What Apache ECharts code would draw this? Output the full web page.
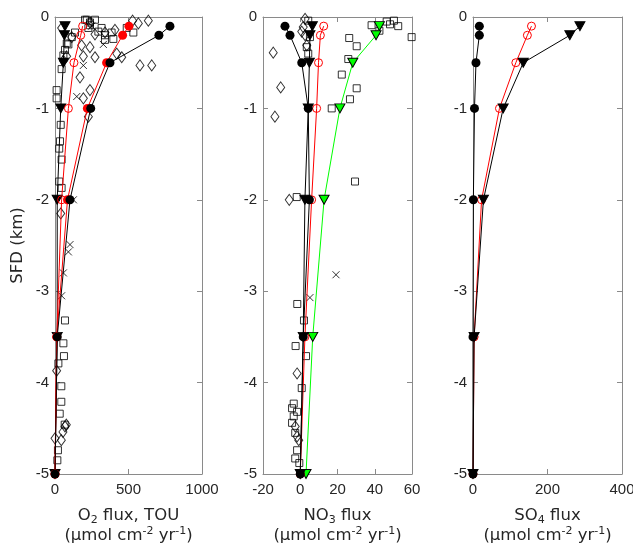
<!DOCTYPE html>
<html>
<head>
<meta charset="utf-8">
<script src="https://cdn.jsdelivr.net/npm/echarts@6/dist/echarts.min.js"></script>
<style>html,body{margin:0;padding:0;background:#fff}#c{width:633px;height:545px}</style>
</head>
<body>
<div id="c"></div>
<script>
// ---- data ----
const depths = [0.1, 0.2, 0.5, 1, 2, 3.5, 5];

// Panel 1: O2 flux, TOU
const o2BlackFilled = [782, 707, 374, 243, 102, 15, 0];
const o2RedFilled   = [503, 460, 351, 220, 85, 12, 0];
const o2RedOpen     = [188, 175, 129, 91, 45, 12, 0];
const o2Triangles   = [68, 64, 57, 39, 15, 15, 0];
const o2Squares = [[204,0.03],[238,0.06],[272,0.03],[238,0.09],[227,0.12],[317,0.12],[340,0.2],[385,0.17],[340,0.25],[488,0.12],[533,0.17],[295,0.16],[80,0.29],[114,0.22],[68,0.36],[57,0.42],[45,0.57],[11,0.8],[11,0.89],[39,1.18],[34,1.36],[29,1.44],[45,1.56],[29,1.8],[45,1.87],[68,3.32],[57,3.57],[61,3.71],[23,3.79],[43,4.04],[43,4.21],[32,4.34],[66,4.46],[20,4.74],[16,4.85],[136,0.17],[91,0.3],[216,0.03],[397,0.24]];
const o2Diamonds = [[528,0.04],[567,0.07],[635,0.04],[420,0.4],[578,0.53],[658,0.53],[454,0.44],[45,0.12],[114,0.22],[181,0.31],[272,0.44],[193,0.43],[238,0.33],[170,0.66],[238,0.8],[193,0.89],[227,1.09],[340,0.17],[408,0.14],[238,0.06],[79,0.43],[57,0.48],[272,0.19],[39,2.15],[11,3.87],[77,4.46],[54,4.54],[43,4.63],[0,4.61],[68,4.48]];
const o2Crosses = [[329,0.3],[193,0.53],[148,0.87],[250,0.1],[125,2.0],[102,2.49],[91,2.57],[57,2.8],[45,3.05]];

// Panel 2: NO3 flux
const no3BlackFilled = [-8.2, -5.5, 0.8, 4.3, 4.9, 1.6, 0];
const no3Triangles   = [6.5, 5.2, 4.9, 4.3, 2.5, 1.6, 0];
const no3RedOpen     = [12.6, 10.8, 9.8, 8.8, 6.1, 2.5, 0];
const no3Green       = [42.5, 40.7, 28.2, 21.3, 12.8, 6.7, 3.1];
const no3Squares = [[38.3,0.09],[46.4,0.05],[48.2,0.08],[50.3,0.04],[52.6,0.1],[59.8,0.22],[42.5,0.15],[26.3,0.23],[30.3,0.32],[25.8,0.46],[22.3,0.63],[30.3,0.78],[26.7,0.9],[16.9,1.0],[4.3,0.4],[3.5,0.33],[4.3,0.04],[5.2,0.22],[29.4,1.8],[-1.9,1.97],[-1.6,3.14],[2.0,3.32],[-2.5,3.6],[3.1,3.71],[0.8,4.06],[-3.5,4.23],[-4.4,4.28],[-1.7,4.32],[-3.5,4.37],[-4.4,4.44],[-2.7,4.55],[-1.7,4.74],[-2.7,4.83],[-0.5,4.88]];
const no3Diamonds = [[-14.5,0.39],[-10.5,0.77],[-13.6,1.09],[-5.9,2.0],[2.6,0.02],[1.6,0.11],[0.8,0.16],[2.6,0.2],[3.5,0.31],[-1.7,3.9],[-2.7,4.48],[-1.7,4.59],[-0.8,4.63]];
const no3Crosses = [[19.2,2.82],[5.2,3.07]];

// Panel 3: SO4 flux
const so4BlackFilled = [17, 17, 8, 4, 1, 0, 0];
const so4RedOpen     = [157, 146, 115, 71, 23, 3, 0];
const so4Triangles   = [287, 260, 135, 81, 28, 3, 0];

// axis ticks
const yTicks = {min: -5, max: 0, interval: 1};
const xTicks = [
  {min: 0, max: 1000, interval: 500},
  {min: -20, max: 60, interval: 20},
  {min: 0, max: 400, interval: 200}
];
const xNames = [
  '{n|O}{s|2}{n| flux, TOU}\n{n|(µmol cm}{p|-2}{n| yr}{p|-1}{n|)}',
  '{n|NO}{s|3}{n| flux}\n{n|(µmol cm}{p|-2}{n| yr}{p|-1}{n|)}',
  '{n|SO}{s|4}{n| flux}\n{n|(µmol cm}{p|-2}{n| yr}{p|-1}{n|)}'
];
const yName = 'SFD (km)';

// ---- build ----
const prof = (vals) => vals.map((v, i) => [v, -depths[i]]);
const pts = (arr) => arr.map(p => [p[0], -p[1]]);

const grids = [
  {left: 55, right: 431, top: 17, bottom: 71, outerBoundsMode: 'none', containLabel: false},
  {left: 263, right: 221, top: 17, bottom: 71, outerBoundsMode: 'none', containLabel: false},
  {left: 473, right: 11, top: 17, bottom: 71, outerBoundsMode: 'none', containLabel: false}
];
const frameColor = '#8a8a8a';
const labelColor = '#262626';
const tickFont = 'Liberation Sans';
const nameFont = 'DejaVu Sans';
const plain = (v) => String(v);

const xAxis = [], yAxis = [];
grids.forEach((g, i) => {
  const common = {
    type: 'value', gridIndex: i, min: xTicks[i].min, max: xTicks[i].max, interval: xTicks[i].interval,
    axisLine: {show: true, onZero: false, lineStyle: {color: frameColor, width: 1}},
    axisTick: {show: true, inside: true, length: 5, lineStyle: {color: frameColor}},
    splitLine: {show: false}
  };
  xAxis.push(Object.assign({}, common, {
    position: 'bottom',
    axisLabel: {color: labelColor, fontSize: 15, fontFamily: tickFont, margin: 8, formatter: plain},
    name: xNames[i], nameLocation: 'middle', nameGap: 32,
    nameTextStyle: {
      color: labelColor, fontFamily: nameFont,
      rich: {
        n: {fontSize: 16.5, lineHeight: 20, fontFamily: nameFont, color: labelColor, verticalAlign: 'middle'},
        s: {fontSize: 11, lineHeight: 11, fontFamily: nameFont, color: labelColor, verticalAlign: 'bottom'},
        p: {fontSize: 11, lineHeight: 11, fontFamily: nameFont, color: labelColor, verticalAlign: 'top'}
      }
    }
  }));
  xAxis.push(Object.assign({}, common, {position: 'top', axisLabel: {show: false}}));
  const ycommon = {
    type: 'value', gridIndex: i, min: yTicks.min, max: yTicks.max, interval: yTicks.interval,
    axisLine: {show: true, onZero: false, lineStyle: {color: frameColor, width: 1}},
    axisTick: {show: true, inside: true, length: 5, lineStyle: {color: frameColor}},
    splitLine: {show: false}
  };
  const yl = Object.assign({}, ycommon, {
    position: 'left',
    axisLabel: {color: labelColor, fontSize: 15, fontFamily: tickFont, margin: 6, formatter: plain}
  });
  if (i === 0) {
    yl.name = yName; yl.nameLocation = 'middle'; yl.nameGap = 29; yl.nameRotate = 90;
    yl.nameTextStyle = {color: labelColor, fontSize: 16.5, fontFamily: nameFont};
  }
  yAxis.push(yl);
  yAxis.push(Object.assign({}, ycommon, {position: 'right', axisLabel: {show: false}}));
});

const crossPath = 'path://M0,0L10,10M10,0L0,10';
function scatter(i, data, kind) {
  const base = {type: 'scatter', xAxisIndex: 2*i, yAxisIndex: 2*i, data: pts(data), clip: false, z: 2, silent: true};
  if (kind === 'square') {
    return Object.assign(base, {symbol: 'rect', symbolSize: 7, itemStyle: {color: 'rgba(0,0,0,0)', borderColor: '#000', borderWidth: 1}});
  } else if (kind === 'diamond') {
    return Object.assign(base, {symbol: 'diamond', symbolSize: [8, 11], itemStyle: {color: 'rgba(0,0,0,0)', borderColor: '#000', borderWidth: 1}});
  } else {
    return Object.assign(base, {symbol: crossPath, symbolSize: 7, itemStyle: {color: 'rgba(0,0,0,0)', borderColor: '#000', borderWidth: 1}});
  }
}
function line(i, vals, style) {
  const s = {type: 'line', xAxisIndex: 2*i, yAxisIndex: 2*i, data: prof(vals), clip: false, z: 3, silent: true,
    showSymbol: true, symbolSize: 8, lineStyle: {width: 1, color: style.line}, animation: false};
  if (style.kind === 'filledCircle') {
    s.symbol = 'circle'; s.symbolSize = 9;
    s.itemStyle = {color: style.fill, borderColor: style.fill, borderWidth: 0};
  } else if (style.kind === 'openCircle') {
    s.symbol = 'circle'; s.symbolSize = 8;
    s.itemStyle = {color: 'rgba(0,0,0,0)', borderColor: style.line, borderWidth: 1};
  } else {
    s.symbol = 'triangle'; s.symbolRotate = 180; s.symbolSize = [10, 9];
    s.itemStyle = {color: style.fill, borderColor: '#000', borderWidth: 1};
  }
  return s;
}

const series = [
  scatter(0, o2Squares, 'square'), scatter(0, o2Diamonds, 'diamond'), scatter(0, o2Crosses, 'cross'),
  line(0, o2Triangles, {kind: 'tri', line: '#000', fill: '#000'}),
  line(0, o2RedOpen, {kind: 'openCircle', line: '#ff0000'}),
  line(0, o2RedFilled, {kind: 'filledCircle', line: '#ff0000', fill: '#ff0000'}),
  line(0, o2BlackFilled, {kind: 'filledCircle', line: '#000', fill: '#000'}),

  scatter(1, no3Squares, 'square'), scatter(1, no3Diamonds, 'diamond'), scatter(1, no3Crosses, 'cross'),
  line(1, no3Green, {kind: 'tri', line: '#00ff00', fill: '#00ff00'}),
  line(1, no3RedOpen, {kind: 'openCircle', line: '#ff0000'}),
  line(1, no3BlackFilled, {kind: 'filledCircle', line: '#000', fill: '#000'}),
  line(1, no3Triangles, {kind: 'tri', line: '#000', fill: '#000'}),

  line(2, so4RedOpen, {kind: 'openCircle', line: '#ff0000'}),
  line(2, so4Triangles, {kind: 'tri', line: '#000', fill: '#000'}),
  line(2, so4BlackFilled, {kind: 'filledCircle', line: '#000', fill: '#000'})
];

const chart = echarts.init(document.getElementById('c'), null, {renderer: 'canvas', width: 633, height: 545});
chart.setOption({
  animation: false,
  backgroundColor: '#fff',
  grid: grids,
  xAxis: xAxis,
  yAxis: yAxis,
  series: series
});
</script>
</body>
</html>
